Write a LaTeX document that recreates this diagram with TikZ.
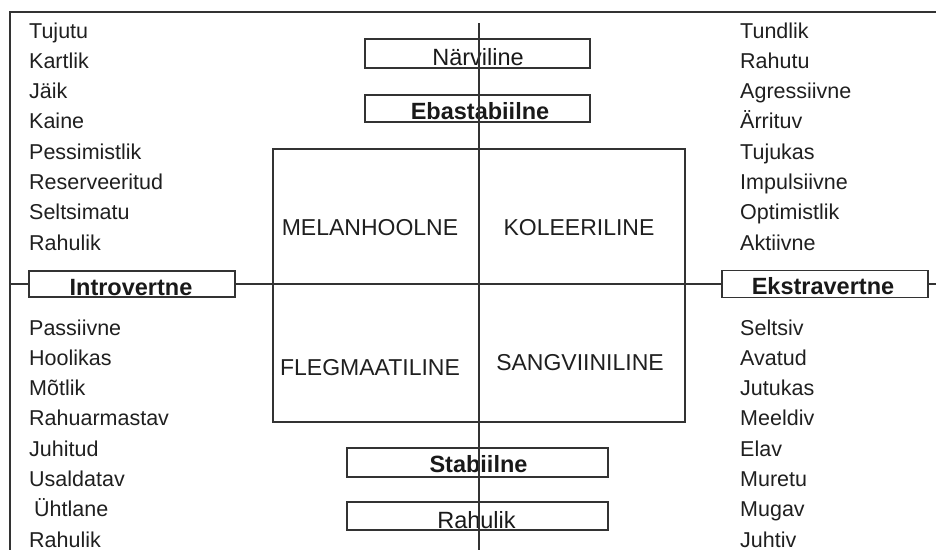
\documentclass[tikz,border=0pt]{standalone}
\usepackage{fontspec}
\setmainfont{Liberation Sans}
\begin{document}
\begin{tikzpicture}[x=1pt,y=-1pt,
  ln/.style={line width=1.4pt, draw=black!80},
  boxv/.style={ln, rectangle, inner sep=0pt},
  boxh/.style={ln, rectangle, inner sep=0pt, fill=white},
  word/.style={anchor=base west, inner sep=0pt, text=black!88, font=\fontsize{21.5}{24}\selectfont},
  quad/.style={anchor=base, inner sep=0pt, text=black!88, font=\fontsize{23}{26}\selectfont},
  blab/.style={anchor=base, inner sep=0pt, text=black!90, font=\fontsize{23.5}{26}\selectfont},
  bblab/.style={blab, font=\fontsize{23.5}{26}\selectfont\bfseries}]
\useasboundingbox (0,0) rectangle (936,550);
% frame
\coordinate (ftr) at (936,12);
\coordinate (ftl) at (10,12);
\coordinate (fbl) at (10,550);
\draw[ln] (ftr) -- (ftl) -- (fbl);
% axes
\coordinate (vtop) at (479,23);
\coordinate (vbot) at (479,550);
\coordinate (hl) at (10,284);
\coordinate (hr) at (936,284);
\draw[ln] (hl) -- (hr);
% central square
\node[boxv, minimum width=412pt, minimum height=273pt] (sq) at (479,285.5) {};
% horizontal-axis boxes
\node[boxh, minimum width=206pt, minimum height=26pt] (intro) at (132,284) {};
\node[bblab] (introt) at (131,295) {Introvertne};
\node[boxh, minimum width=206pt, minimum height=27pt] (ekstra) at (825,284) {};
\node[bblab] (ekstrat) at (823,294) {Ekstravertne};
% vertical-axis boxes
\node[boxv, minimum width=225pt, minimum height=29pt] (narv) at (477.5,53.5) {};
\node[blab] (narvt) at (478,65) {Närviline};
\node[boxv, minimum width=225pt, minimum height=27pt] (ebas) at (477.5,108.5) {};
\node[bblab] (ebast) at (480,119) {Ebastabiilne};
\node[boxv, minimum width=261pt, minimum height=29pt] (stab) at (477.5,462.5) {};
\node[bblab] (stabt) at (478.5,472) {Stabiilne};
\node[boxv, minimum width=261pt, minimum height=28pt] (rah) at (477.5,516) {};
\node[blab] (raht) at (476.5,528) {Rahulik};
\draw[ln] (vtop) -- (vbot);
% quadrant labels
\node[quad] (mel) at (370,235.5) {MELANHOOLNE};
\node[quad] (kol) at (579,235.5) {KOLEERILINE};
\node[quad] (fle) at (370,375) {FLEGMAATILINE};
\node[quad] (san) at (580,370) {SANGVIINILINE};
% left upper list
\foreach \w [count=\i from 0] in {Tujutu,Kartlik,Jäik,Kaine,Pessimistlik,Reserveeritud,Seltsimatu,Rahulik}
  \node[word] (lu\i) at (29,38+30.3*\i) {\w};
% left lower list
\foreach \w [count=\i from 0] in {Passiivne,Hoolikas,Mõtlik,Rahuarmastav,Juhitud,Usaldatav,{\hspace{5pt}Ühtlane},Rahulik}
  \node[word] (ll\i) at (29,335+30.3*\i) {\w};
% right upper list
\foreach \w [count=\i from 0] in {Tundlik,Rahutu,Agressiivne,Ärrituv,Tujukas,Impulsiivne,Optimistlik,Aktiivne}
  \node[word] (ru\i) at (740,38+30.3*\i) {\w};
% right lower list
\foreach \w [count=\i from 0] in {Seltsiv,Avatud,Jutukas,Meeldiv,Elav,Muretu,Mugav,Juhtiv}
  \node[word] (rl\i) at (740,335+30.3*\i) {\w};
\end{tikzpicture}
\end{document}
